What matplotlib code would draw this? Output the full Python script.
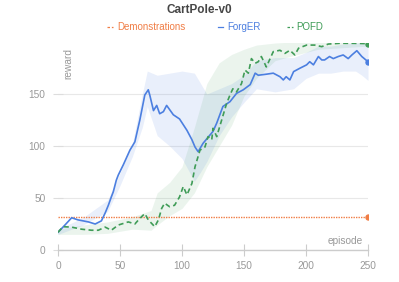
import matplotlib
matplotlib.use("Agg")
import matplotlib.pyplot as plt
from matplotlib.lines import Line2D

plt.rcParams['font.family'] = ['Liberation Sans', 'DejaVu Sans']

# ForgER mean curve
forger_ep = [0, 5.6, 11, 16, 24.5, 30, 35, 38, 40.6, 43, 44.6, 47, 48.6, 52.7, 58, 62, 66, 70,
             72.8, 74, 77, 79.6, 82, 85, 87.6, 93, 98, 104, 108, 110.5, 113, 117, 122.6, 125,
             128, 133, 138.7, 144, 149.4, 155, 159, 161.5, 168, 173.6, 179, 181.7, 184, 187,
             190, 195, 200.5, 203, 206, 210, 212.7, 215, 219, 222, 226, 230, 234, 237, 241,
             245, 250]
forger_rw = [17, 24, 31, 29, 27, 25, 28, 35.5, 43, 51, 56, 67, 72, 82, 96, 104, 125, 149,
             154, 149, 134, 139, 131, 133, 139, 130, 126, 115, 106, 99, 94.5, 102.6, 110.6, 114,
             122, 138, 142.6, 150.6, 154, 159, 170, 168, 169, 170, 166.6, 163.5, 166.6, 163.5,
             171.5, 174.7, 178, 181, 178, 186, 182.7, 182.7, 186, 184, 186, 187.5, 184, 187.5, 191.6,
             186, 181]
# ForgER band
forger_band_ep = [0, 20, 40, 50, 60, 68, 72, 80, 90, 100, 110, 115, 120, 130, 140, 150, 160,
                  175, 190, 200, 210, 220, 230, 240, 245, 250]
forger_lo = [15, 24, 37, 62, 90, 118, 138, 110, 100, 88, 66, 75, 85, 110, 128, 142, 155,
             152, 155, 165, 170, 170, 172, 172, 168, 163]
forger_hi = [20, 31, 48, 74, 102, 150, 172, 168, 170, 172, 170, 160, 150, 155, 160, 168, 182,
             185, 185, 190, 196, 196, 198, 199, 199, 198]

# POFD mean curve
pofd_ep = [0, 4, 11, 19, 27, 32.5, 38, 43, 48.6, 56.7, 62, 66, 70, 72.8, 78, 81, 83.6, 86, 90,
           94, 98, 101, 104, 108, 110.5, 114.5, 118.5, 121, 124, 125, 128, 132, 136, 138.7,
           141, 144, 148, 150.8, 153.5, 156, 159, 161.5, 164, 168, 173.6, 179, 183, 187, 191,
           194, 200.5, 207, 212.7, 218, 227, 238, 250]
pofd_rw = [17, 22.4, 22, 20, 19, 19, 22, 19, 24, 27, 25, 30.4, 35, 29, 22.4, 29, 40, 45, 41.6,
           43, 51, 61, 53, 64, 80, 96, 99, 109, 106, 117, 109, 125, 141, 149,
           155, 152, 160, 173, 170, 184, 179.5, 181, 186, 176, 190.7, 192, 189, 192, 187.5,
           194, 197, 197, 195.5, 198, 198.7, 198.7, 198.4]
# POFD band
pofd_band_ep = [0, 20, 40, 60, 75, 80, 90, 100, 110, 120, 130, 140, 150, 160, 175, 190, 210, 250]
pofd_lo = [15, 15, 16, 20, 19, 24, 33, 40, 55, 80, 100, 120, 148, 165, 182, 187, 193, 196]
pofd_hi = [20, 24, 27, 32, 38, 55, 65, 80, 118, 160, 180, 188, 193, 197, 199, 200, 200, 200]

# Demonstrations level
demo_ep = [0, 250]
demo_rw = [32, 32]

c_demo = '#f07d45'
c_forger = '#4c7fe0'
c_pofd = '#3f9c57'
c_text = '#999999'
c_axis = '#cccccc'

fig = plt.figure(figsize=(3.99, 2.82), dpi=100)
ax = fig.add_axes([58 / 399, 32 / 282, 310 / 399, 207 / 282])

ax.fill_between(forger_band_ep, forger_lo, forger_hi, color=c_forger, alpha=0.12, lw=0)
ax.fill_between(pofd_band_ep, pofd_lo, pofd_hi, color=c_pofd, alpha=0.10, lw=0)

ax.plot(demo_ep, demo_rw, color=c_demo, lw=1.0, ls=(0, (1, 0.8)))
ax.plot(forger_ep, forger_rw, color=c_forger, lw=1.2)
ax.plot(pofd_ep, pofd_rw, color=c_pofd, lw=1.2, ls=(0, (3, 2)))

ax.plot(demo_ep[-1], demo_rw[-1], 'o', color=c_demo, ms=3.6)
ax.plot(forger_ep[-1], forger_rw[-1], 'o', color=c_forger, ms=3.6)
ax.plot(pofd_ep[-1], pofd_rw[-1], 'o', color=c_pofd, ms=3.6)

ax.set_xlim(0, 250)
ax.set_ylim(0, 199)
ax.set_xticks([0, 50, 100, 150, 200, 250])
ax.set_yticks([0, 50, 100, 150])

for s in ['top', 'right', 'left']:
    ax.spines[s].set_visible(False)
ax.spines['bottom'].set_color(c_axis)
ax.spines['bottom'].set_linewidth(1.0)

ax.grid(axis='y', color='#e8e8e8', lw=0.8)
ax.set_axisbelow(True)
ax.tick_params(axis='x', direction='inout', length=8, width=0.8, color=c_axis,
               labelsize=7.3, labelcolor=c_text, pad=4)
ax.tick_params(axis='y', direction='inout', length=7, width=0.8, color='#dddddd',
               labelsize=7.3, labelcolor=c_text, pad=5.5)

ax.text(0.984, 3.5 / 207, 'episode', transform=ax.transAxes, ha='right', va='bottom',
        fontsize=7.3, color=c_text)
ax.text(0.032, 0.976, 'reward', transform=ax.transAxes, ha='center', va='top',
        rotation=90, fontsize=7.3, color=c_text)

fig.text(0.5, 1 - 10 / 282, 'CartPole-v0', ha='center', va='center', fontsize=8.5,
         fontweight='bold', color='#464646')

# legend row
ly = 1 - 27 / 282
legend_items = [('Demonstrations', c_demo, (0, (2, 1.5)), 107, 113, 117),
                ('ForgER', c_forger, '-', 218, 223, 227),
                ('POFD', c_pofd, (0, (2, 1.5)), 287, 293, 296)]
for label, col, ls, x0, x1, xt in legend_items:
    fig.add_artist(Line2D([x0 / 399, x1 / 399], [ly, ly], color=col, lw=0.9, ls=ls,
                          transform=fig.transFigure))
    fig.text(xt / 399, ly, label, ha='left', va='center', fontsize=7.0, color=col)

fig.savefig('out.png', dpi=100, facecolor='white')
